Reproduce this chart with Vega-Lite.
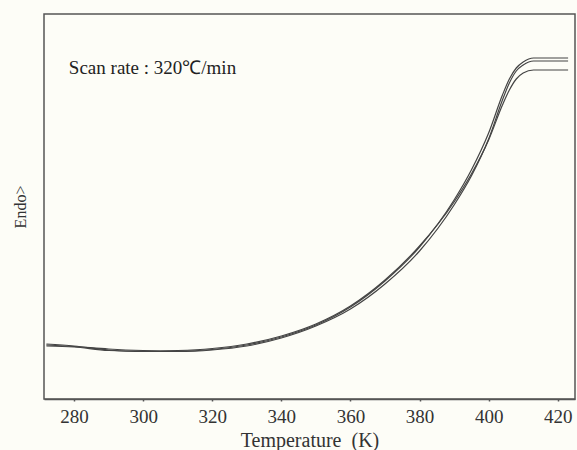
{
  "$schema": "https://vega.github.io/schema/vega-lite/v6.json",
  "width": 531,
  "height": 385,
  "autosize": "none",
  "padding": {"left": 44, "top": 14, "right": 2, "bottom": 51},
  "background": "#fdfdf7",
  "config": {
    "view": {"stroke": "#555555", "strokeWidth": 1.5},
    "font": "Liberation Serif, serif"
  },
  "layer": [
    {
      "data": {"values": [
        {"T": 272, "v": 54, "s": "A"}, {"T": 280, "v": 52.5, "s": "A"}, {"T": 290, "v": 50, "s": "A"}, {"T": 300, "v": 48.5, "s": "A"}, {"T": 310, "v": 48, "s": "A"}, {"T": 320, "v": 49.5, "s": "A"}, {"T": 330, "v": 54, "s": "A"}, {"T": 340, "v": 62, "s": "A"}, {"T": 350, "v": 74, "s": "A"}, {"T": 360, "v": 92, "s": "A"}, {"T": 370, "v": 118, "s": "A"}, {"T": 380, "v": 152, "s": "A"}, {"T": 390, "v": 199, "s": "A"}, {"T": 395, "v": 229, "s": "A"}, {"T": 400, "v": 266, "s": "A"}, {"T": 404, "v": 304, "s": "A"}, {"T": 406, "v": 320, "s": "A"}, {"T": 408, "v": 331, "s": "A"}, {"T": 410, "v": 337, "s": "A"}, {"T": 413, "v": 341, "s": "A"}, {"T": 423, "v": 341, "s": "A"},
        {"T": 272, "v": 55, "s": "B"}, {"T": 280, "v": 53, "s": "B"}, {"T": 290, "v": 49, "s": "B"}, {"T": 300, "v": 47.5, "s": "B"}, {"T": 310, "v": 47.5, "s": "B"}, {"T": 320, "v": 49, "s": "B"}, {"T": 330, "v": 53, "s": "B"}, {"T": 340, "v": 61, "s": "B"}, {"T": 350, "v": 73, "s": "B"}, {"T": 360, "v": 90, "s": "B"}, {"T": 370, "v": 115, "s": "B"}, {"T": 380, "v": 148, "s": "B"}, {"T": 390, "v": 194, "s": "B"}, {"T": 395, "v": 223, "s": "B"}, {"T": 400, "v": 260, "s": "B"}, {"T": 404, "v": 299, "s": "B"}, {"T": 406, "v": 316, "s": "B"}, {"T": 408, "v": 328, "s": "B"}, {"T": 410, "v": 334, "s": "B"}, {"T": 413, "v": 338, "s": "B"}, {"T": 423, "v": 338, "s": "B"},
        {"T": 272, "v": 53, "s": "C"}, {"T": 280, "v": 52, "s": "C"}, {"T": 290, "v": 48.5, "s": "C"}, {"T": 300, "v": 48, "s": "C"}, {"T": 310, "v": 48.5, "s": "C"}, {"T": 320, "v": 50.5, "s": "C"}, {"T": 330, "v": 55, "s": "C"}, {"T": 340, "v": 63, "s": "C"}, {"T": 350, "v": 75, "s": "C"}, {"T": 360, "v": 93, "s": "C"}, {"T": 370, "v": 119, "s": "C"}, {"T": 380, "v": 153, "s": "C"}, {"T": 390, "v": 197, "s": "C"}, {"T": 395, "v": 225, "s": "C"}, {"T": 400, "v": 259, "s": "C"}, {"T": 404, "v": 294, "s": "C"}, {"T": 406, "v": 309, "s": "C"}, {"T": 408, "v": 320, "s": "C"}, {"T": 410, "v": 326, "s": "C"}, {"T": 413, "v": 329, "s": "C"}, {"T": 423, "v": 329, "s": "C"}
      ]},
      "mark": {"type": "line", "interpolate": "monotone", "strokeWidth": 1.2, "color": "#444444"},
      "encoding": {
        "x": {"field": "T", "type": "quantitative",
              "scale": {"domain": [271.3, 425], "nice": false, "zero": false},
              "axis": {"title": "Temperature\u00a0\u00a0(K)", "values": [280, 300, 320, 340, 360, 380, 400, 420],
                       "grid": false, "domainColor": "#555555", "domainWidth": 1.5,
                       "tickColor": "#555555", "tickSize": 2, "tickWidth": 1.5,
                       "labelFont": "Liberation Serif, serif", "labelFontSize": 19, "labelColor": "#333333", "labelPadding": 6,
                       "titleFont": "Liberation Serif, serif", "titleFontSize": 20, "titleFontWeight": "normal", "titleColor": "#333333", "titlePadding": 4}},
        "y": {"field": "v", "type": "quantitative",
              "scale": {"domain": [0, 385], "nice": false},
              "axis": {"title": "Endo>", "labels": false, "ticks": false, "grid": false, "domain": false,
                       "titleFont": "Liberation Serif, serif", "titleFontSize": 16, "titleFontWeight": "normal", "titleColor": "#333333", "titlePadding": 16}},
        "detail": {"field": "s", "type": "nominal"}
      }
    },
    {
      "data": {"values": [{"T": 278.5, "v": 331, "label": "Scan rate : 320℃/min"}]},
      "mark": {"type": "text", "align": "left", "baseline": "middle", "font": "Liberation Serif, serif", "fontSize": 19, "color": "#222222"},
      "encoding": {
        "x": {"field": "T", "type": "quantitative"},
        "y": {"field": "v", "type": "quantitative"},
        "text": {"field": "label"}
      }
    }
  ]
}
